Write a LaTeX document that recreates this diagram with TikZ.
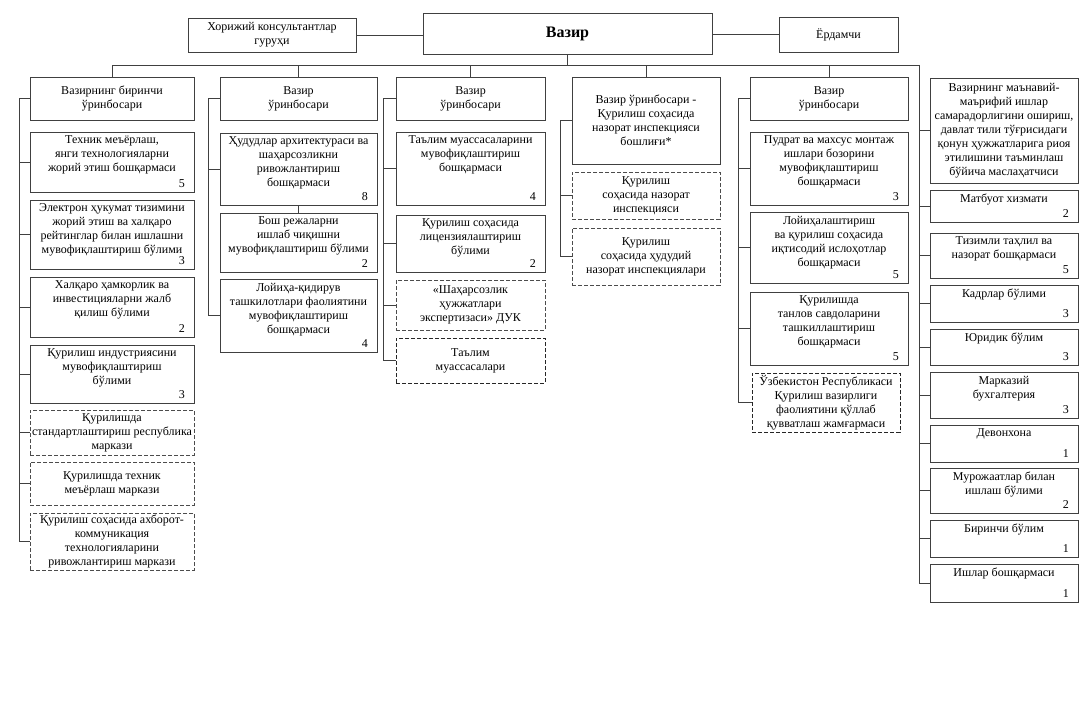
\documentclass[tikz,border=0pt]{standalone}
\usepackage{fontspec}
\setmainfont{Liberation Serif}
\tikzset{
  lbl/.style={font=\fontsize{9pt}{10.5pt}\selectfont, align=center, text=black},
  sbox/.style={draw=black!75, line width=0.6pt, inner sep=0pt, lbl},
  dbox/.style={draw=black!70, line width=0.75pt, dash pattern=on 3pt off 1.5pt, inner sep=0pt, lbl},
  tline/.style={draw=black!75, line width=0.6pt},
  numl/.style={font=\fontsize{9pt}{10.5pt}\selectfont, anchor=base east, inner sep=0pt},
  toptext/.style={lbl, anchor=north, inner sep=0pt},
}
\newcommand{\ubox}[7]{\node[#2, minimum width={(#5-#3)*0.75pt}, minimum height={(#6-#4)*0.75pt}] (#1) at ({(#3+#5)/2},{(#4+#6)/2}) {#7};}
\newcommand{\nbox}[7]{%
  \node[sbox, minimum width={(#4-#2)*0.75pt}, minimum height={(#5-#3)*0.75pt}] (#1) at ({(#2+#4)/2},{(#3+#5)/2}) {};
  \node[toptext] (#1-t) at ([yshift=-3pt]#1.north) {#6};
  \node[numl] (#1-n) at ([xshift=-7pt, yshift=3.5pt]#1.south east) {#7};
}
\begin{document}
\begin{tikzpicture}[x=0.75pt, y=-0.75pt]
\useasboundingbox (0,0) rectangle (1092,717);
\fill[white] (0,0) rectangle (1092,717);

% top row
\ubox{hkg}{sbox}{188}{18}{356}{52}{Хорижий консультантлар\\гуруҳи}
\ubox{vz}{sbox, font=\fontsize{12pt}{14pt}\selectfont\bfseries}{423}{13}{712}{54}{Вазир}
\ubox{erd}{sbox}{779}{17}{898}{52}{Ёрдамчи}
\draw[tline] (hkg.east) -- (hkg.east -| vz.west);
\draw[tline] (erd.west) -- (erd.west -| vz.east);

% column 1
\ubox{h1}{sbox}{30}{77}{194}{120}{Вазирнинг биринчи\\ўринбосари}
\nbox{a1}{30}{132}{194}{192}{Техник меъёрлаш,\\янги технологияларни\\жорий этиш бошқармаси}{5}
\nbox{a2}{30}{200}{194}{269}{Электрон ҳукумат тизимини\\жорий этиш ва халқаро\\рейтинглар билан ишлашни\\мувофиқлаштириш бўлими}{3}
\nbox{a3}{30}{277}{194}{337}{Халқаро ҳамкорлик ва\\инвестицияларни жалб\\қилиш бўлими}{2}
\nbox{a4}{30}{345}{194}{403}{Қурилиш индустриясини\\мувофиқлаштириш\\бўлими}{3}
\ubox{a5}{dbox}{30}{410}{194}{455}{Қурилишда\\стандартлаштириш республика\\маркази}
\ubox{a6}{dbox}{30}{462}{194}{505}{Қурилишда техник\\меъёрлаш маркази}
\ubox{a7}{dbox}{30}{513}{194}{570}{Қурилиш соҳасида ахборот-\\коммуникация\\технологияларини\\ривожлантириш маркази}

% column 2
\ubox{h2}{sbox}{220}{77}{377}{120}{Вазир\\ўринбосари}
\nbox{b1}{220}{133}{377}{205}{Ҳудудлар архитектураси ва\\шаҳарсозликни\\ривожлантириш\\бошқармаси}{8}
\nbox{b2}{220}{213}{377}{272}{Бош режаларни\\ишлаб чиқишни\\мувофиқлаштириш бўлими}{2}
\nbox{b3}{220}{279}{377}{352}{Лойиҳа-қидирув\\ташкилотлари фаолиятини\\мувофиқлаштириш\\бошқармаси}{4}

% column 3
\ubox{h3}{sbox}{396}{77}{545}{120}{Вазир\\ўринбосари}
\nbox{c1}{396}{132}{545}{205}{Таълим муассасаларини\\мувофиқлаштириш\\бошқармаси}{4}
\nbox{c2}{396}{215}{545}{272}{Қурилиш соҳасида\\лицензиялаштириш\\бўлими}{2}
\ubox{c3}{dbox}{396}{280}{545}{330}{«Шаҳарсозлик\\ҳужжатлари\\экспертизаси» ДУК}
\ubox{c4}{dbox, draw=black!85}{396}{338}{545}{383}{Таълим\\муассасалари}

% column 4
\ubox{h4}{sbox}{572}{77}{720}{164}{Вазир ўринбосари -\\Қурилиш соҳасида\\назорат инспекцияси\\бошлиғи*}
\ubox{d1}{dbox}{572}{172}{720}{219}{Қурилиш\\соҳасида назорат\\инспекцияси}
\ubox{d2}{dbox}{572}{228}{720}{285}{Қурилиш\\соҳасида ҳудудий\\назорат инспекциялари}

% column 5
\ubox{h5}{sbox}{750}{77}{908}{120}{Вазир\\ўринбосари}
\nbox{e1}{750}{132}{908}{205}{Пудрат ва махсус монтаж\\ишлари бозорини\\мувофиқлаштириш\\бошқармаси}{3}
\nbox{e2}{750}{212}{908}{283}{Лойиҳалаштириш\\ва қурилиш соҳасида\\иқтисодий ислоҳотлар\\бошқармаси}{5}
\nbox{e3}{750}{292}{908}{365}{Қурилишда\\танлов савдоларини\\ташкиллаштириш\\бошқармаси}{5}
\ubox{e4}{dbox, draw=black!85}{752}{373}{900}{432}{Ўзбекистон Республикаси\\Қурилиш вазирлиги\\фаолиятини қўллаб\\қувватлаш жамғармаси}

% column 6
\ubox{f1}{sbox}{930}{78}{1078}{183}{Вазирнинг маънавий-\\маърифий ишлар\\самарадорлигини ошириш,\\давлат тили тўғрисидаги\\қонун ҳужжатларига риоя\\этилишини таъминлаш\\бўйича маслаҳатчиси}
\nbox{f2}{930}{190}{1078}{222}{Матбуот хизмати}{2}
\nbox{f3}{930}{233}{1078}{278}{Тизимли таҳлил ва\\назорат бошқармаси}{5}
\nbox{f4}{930}{285}{1078}{322}{Кадрлар бўлими}{3}
\nbox{f5}{930}{329}{1078}{365}{Юридик бўлим}{3}
\nbox{f6}{930}{372}{1078}{418}{Марказий\\бухгалтерия}{3}
\nbox{f7}{930}{425}{1078}{462}{Девонхона}{1}
\nbox{f8}{930}{468}{1078}{513}{Мурожаатлар билан\\ишлаш бўлими}{2}
\nbox{f9}{930}{520}{1078}{557}{Биринчи бўлим}{1}
\nbox{f10}{930}{564}{1078}{602}{Ишлар бошқармаси}{1}

% bus
\coordinate (busy) at (0,65);
\coordinate (busR) at (919,65);
\draw[tline] (vz.south) -- (vz.south |- busy);
\draw[tline] (h1.north |- busy) -- (busR);
\foreach \h in {h1,h2,h3,h4,h5} \draw[tline] (\h.north) -- (\h.north |- busy);

% spines
\coordinate (sp1) at (19,0);
\coordinate (sp2) at (208,0);
\coordinate (sp3) at (383,0);
\coordinate (sp4) at (560,0);
\coordinate (sp5) at (738,0);
\draw[tline] (h1.west) -- (h1.west -| sp1) -- (a7.west -| sp1) -- (a7.west);
\foreach \b in {a1,a2,a3,a4,a5,a6} \draw[tline] (\b.west) -- (\b.west -| sp1);
\draw[tline] (h2.west) -- (h2.west -| sp2) -- (b3.west -| sp2) -- (b3.west);
\draw[tline] (b1.west) -- (b1.west -| sp2);
\draw[tline] (b1.south) -- (b2.north);
\draw[tline] (h3.west) -- (h3.west -| sp3) -- (c4.west -| sp3) -- (c4.west);
\foreach \b in {c1,c2,c3} \draw[tline] (\b.west) -- (\b.west -| sp3);
\draw[tline] (h4.west) -- (h4.west -| sp4) -- (d2.west -| sp4) -- (d2.west);
\draw[tline] (d1.west) -- (d1.west -| sp4);
\draw[tline] (h5.west) -- (h5.west -| sp5) -- (e4.west -| sp5) -- (e4.west);
\foreach \b in {e1,e2,e3} \draw[tline] (\b.west) -- (\b.west -| sp5);
\draw[tline] (busR) -- (busR |- f10.west) -- (f10.west);
\foreach \b in {f1,f2,f3,f4,f5,f6,f7,f8,f9} \draw[tline] (\b.west) -- (\b.west -| busR);
\end{tikzpicture}
\end{document}
